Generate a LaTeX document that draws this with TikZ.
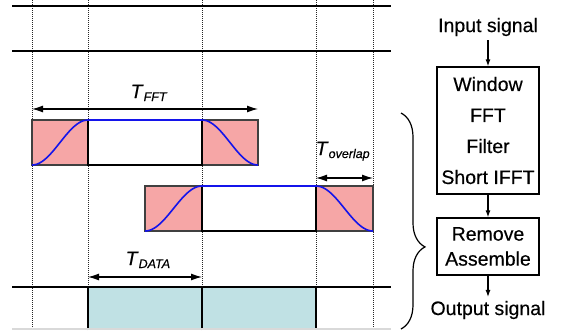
\documentclass[tikz,border=0pt]{standalone}
\usepackage{fontspec}
\setmainfont{Liberation Sans}[FakeBold=0.35]
\usetikzlibrary{arrows.meta,decorations.pathreplacing}
\definecolor{fensterrot}{RGB}{246,166,166}
\definecolor{datenblau}{RGB}{192,225,228}
\definecolor{kurvenblau}{RGB}{20,20,235}
\newcommand{\Tsub}[1]{\textit{T}\raisebox{-3pt}{\fontsize{12.5}{14}\selectfont\itshape #1}}

\begin{document}
\begin{tikzpicture}[x=1pt,y=-1pt,>={Latex[length=7pt,width=5pt]},line width=1.2pt,
	every node/.style={font=\fontsize{19.5}{23}\selectfont},
	raster/.style={line width=1pt,black!85,dash pattern=on 1pt off 1pt},
	dimline/.style={{Latex[length=11pt,width=7pt]}-{Latex[length=11pt,width=7pt]}},
	flank/.style={fill=fensterrot,draw=black!75},
	signal/.style={kurvenblau,line width=1.6pt},
	block/.style={draw,minimum width=102pt,align=center}]

\useasboundingbox (0,0) rectangle (566,330);

\def\h{45}

%
% Raster und Zeitachsen
%
\foreach \x in {32,88,202,316,373}
	\draw[raster] (\x,0) -- (\x,330);
\foreach \y in {6,51,287}
	\draw[line width=1.4pt] (12,\y) -- (391,\y);

%
% Fenster mit Flanken
%
\foreach \xa/\xb/\xc/\xd/\yt in {32/88/202/258/120,145/202/316/373/186}{
	\draw[flank] (\xa,\yt) rectangle (\xb,\yt+\h);
	\draw[flank] (\xc,\yt) rectangle (\xd,\yt+\h);
	\draw (\xb,\yt) rectangle (\xc,\yt+\h);
	\draw[signal] plot[domain=0:1,samples=40]
		({\xa+(\xb-\xa)*\x},{\yt+\h*(1+cos(180*\x))/2})
		-- plot[domain=0:1,samples=40]
		({\xc+(\xd-\xc)*\x},{\yt+\h*(1-cos(180*\x))/2});
}

%
% Datenblöcke
%
\foreach \xa/\xb in {88/202,202/316}{
	\fill[datenblau] (\xa,287) rectangle (\xb,330);
	\draw (\xa,330) -- (\xa,287) -- (\xb,287) -- (\xb,330);
}
\draw[black!15] (12,329) -- (391,329);

%
% Zeitmaße
%
\coordinate (fftl) at (32,109);
\coordinate (fftr) at (258,109);
\draw[dimline] (fftl) -- (fftr);
\node[anchor=base west,inner sep=0] (tfft) at (130,98) {\Tsub{FFT}};

\coordinate (ovl) at (316,178);
\coordinate (ovr) at (373,178);
\draw[dimline] (ovl) -- (ovr);
\node[anchor=base west,inner sep=0] (tov) at (315,155) {\Tsub{overlap}};

\coordinate (datl) at (88,277);
\coordinate (datr) at (202,277);
\draw[dimline] (datl) -- (datr);
\node[anchor=base west,inner sep=0] (tdat) at (125,265) {\Tsub{DATA}};

\draw[decorate,decoration={brace,amplitude=24pt,aspect=0.62}] (401,113) -- (401,329);

%
% Ablauf
%
\node (ein) at (488,27) {Input signal};
\node[block,minimum height=127pt,font=\fontsize{19.5}{31}\selectfont] (proz) at (488,130.5)
	{Window\\FFT\\Filter\\Short IFFT};
\node[block,minimum height=57pt,font=\fontsize{19.5}{25}\selectfont] (zus) at (488,246.5)
	{Remove\\Assemble};
\node (aus) at (488,310) {Output signal};
\draw[->] (ein) -- (proz);
\draw[->] (proz) -- (zus);
\draw[->] (zus) -- (aus);

\end{tikzpicture}
\end{document}
